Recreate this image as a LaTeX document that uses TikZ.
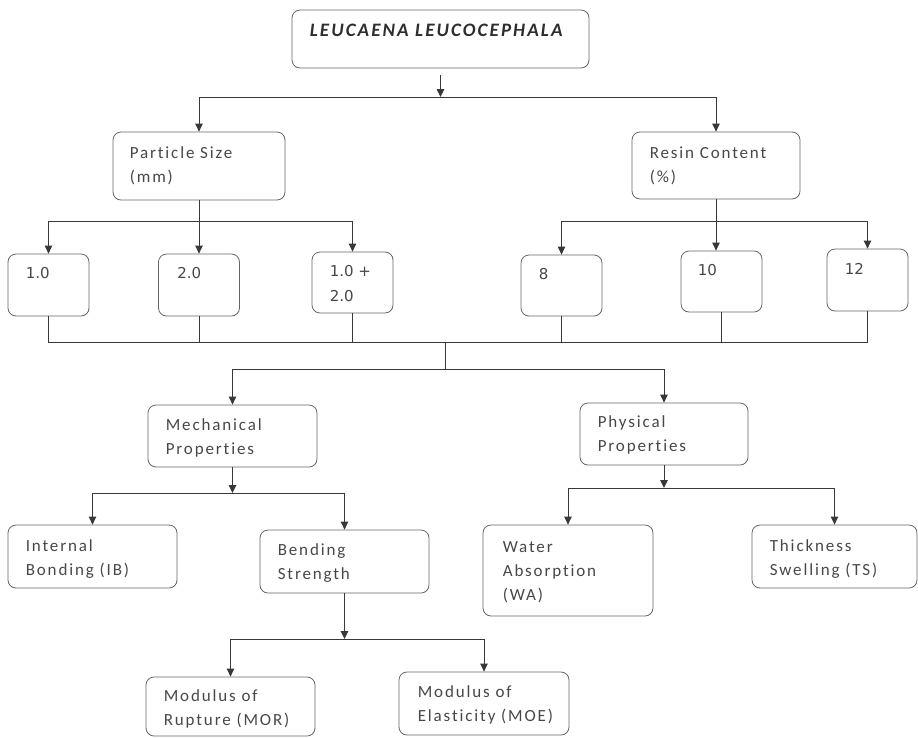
\documentclass[tikz,border=0pt]{standalone}
\usepackage{fontspec}
\setmainfont{Carlito}[LetterSpace=11, Ligatures=NoCommon]
\newfontfamily\numfont{DejaVu Sans}
\usetikzlibrary{arrows.meta,calc}

\definecolor{textcol}{gray}{0.28}
\definecolor{titlecol}{gray}{0.18}
\definecolor{linecol}{gray}{0.22}
\definecolor{boxcol}{gray}{0.4}

\begin{document}
\begin{tikzpicture}[
    x=1pt, y=-1pt,
    box/.style={draw=boxcol, line width=0.8pt, rounded corners=8pt, minimum width=169pt, minimum height=62pt, inner sep=0pt},
    numbox/.style={box, minimum width=81pt},
    txt/.style={anchor=base west, inner sep=0pt, text=textcol, font=\fontsize{17}{24}\selectfont},
    numtxt/.style={txt, font=\numfont\fontsize{15}{25}\selectfont},
    link/.style={draw=linecol, line width=0.9pt},
    arrow/.style={link, -{Triangle[length=8pt, width=7.5pt]}}
]
\useasboundingbox (0,0) rectangle (918,737);

% Boxes (top to bottom)
\node[box, minimum width=297pt, minimum height=58pt] (title) at (440.5,39) {};
\node[box, minimum width=172pt, minimum height=68pt] (psize) at (199,166) {};
\node[box, minimum width=168pt, minimum height=67pt] (rcont) at (716,165.5) {};

\node[numbox] (n1) at (48.5,285) {};
\node[numbox] (n2) at (199,285) {};
\node[numbox, minimum height=61pt] (n3) at (352.5,282.5) {};
\node[numbox, minimum height=61pt] (n4) at (561.5,285.5) {};
\node[numbox, minimum height=61pt] (n5) at (721.5,281.5) {};
\node[numbox] (n6) at (867.5,280) {};

\node[box] (mech) at (232.5,436) {};
\node[box, minimum width=168pt] (phys) at (664,434) {};

\node[box, minimum height=63pt] (ib) at (92.5,556.5) {};
\node[box, minimum height=63pt] (bend) at (344.5,561.5) {};
\node[box, minimum width=170pt, minimum height=91pt] (wa) at (568,570.5) {};
\node[box, minimum width=165pt, minimum height=63pt] (ts) at (834.5,556.5) {};

\node[box, minimum height=59pt] (mor) at (230.5,706.5) {};
\node[box, minimum width=170pt, minimum height=63pt] (moe) at (484,703.5) {};

% Texts, placed from the top left corner of each box
\node[txt, font=\bfseries\itshape\fontsize{19}{24}\selectfont, text=titlecol] (title-t) at ($(title.north west)+(18,27)$) {LEUCAENA LEUCOCEPHALA};
\node[txt] (psize-t) at ($(psize.north west)+(17,27)$) {\parbox[t]{150pt}{Particle Size\\(mm)}};
\node[txt] (rcont-t) at ($(rcont.north west)+(18,27)$) {\parbox[t]{150pt}{Resin Content\\(\%)}};

\node[numtxt] (n1-t) at ($(n1.north west)+(18,25)$) {1.0};
\node[numtxt] (n2-t) at ($(n2.north west)+(19,25)$) {2.0};
\node[numtxt] (n3-t) at ($(n3.north west)+(18,25)$) {\parbox[t]{70pt}{1.0 +\\2.0}};
\node[numtxt] (n4-t) at ($(n4.north west)+(18,25)$) {8};
\node[numtxt] (n5-t) at ($(n5.north west)+(17,25)$) {10};
\node[numtxt] (n6-t) at ($(n6.north west)+(18,26)$) {12};

\node[txt] (mech-t) at ($(mech.north west)+(18,26)$) {\parbox[t]{150pt}{Mechanical\\Properties}};
\node[txt] (phys-t) at ($(phys.north west)+(18,25)$) {\parbox[t]{150pt}{Physical\\Properties}};
\node[txt] (ib-t) at ($(ib.north west)+(18,27)$) {\parbox[t]{150pt}{Internal\\Bonding (IB)}};
\node[txt] (bend-t) at ($(bend.north west)+(18,26)$) {\parbox[t]{150pt}{Bending\\Strength}};
\node[txt] (wa-t) at ($(wa.north west)+(20,28)$) {\parbox[t]{150pt}{Water\\Absorption\\(WA)}};
\node[txt] (ts-t) at ($(ts.north west)+(18,27)$) {\parbox[t]{150pt}{Thickness\\Swelling (TS)}};
\node[txt] (mor-t) at ($(mor.north west)+(18,25)$) {\parbox[t]{150pt}{Modulus of\\Rupture (MOR)}};
\node[txt] (moe-t) at ($(moe.north west)+(19,26)$) {\parbox[t]{150pt}{Modulus of\\Elasticity (MOE)}};

% Levels of the horizontal bars
\coordinate (b1) at (0,97);
\coordinate (b2) at (0,221);
\coordinate (b3) at (0,342);
\coordinate (b4) at (0,369);
\coordinate (b5) at (0,493);
\coordinate (b6) at (0,488);
\coordinate (b7) at (0,639);
\coordinate (j3) at (445,342);

% Species to the two factors
\draw[arrow] ([yshift=-7pt]title.south) -- (title.south |- b1);
\draw[arrow] (title.south |- b1) -| (psize.north);
\draw[arrow] (title.south |- b1) -| (rcont.north);

% Factors to their levels
\draw[arrow] (psize.south) -- (n2.north);
\draw[arrow] (psize.south |- b2) -| (n1.north);
\draw[arrow] (psize.south |- b2) -| (n3.north);
\draw[arrow] (rcont.south) -- (rcont.south |- n5.north);
\draw[arrow] (rcont.south |- b2) -| (n4.north);
\draw[arrow] (rcont.south |- b2) -| (n6.north);

% Levels joined to the properties
\draw[link] (n1.south) |- (n6.south |- b3) -- (n6.south);
\foreach \b in {n2,n3,n4,n5}
    \draw[link] (\b.south) -- (\b.south |- b3);
\draw[link] (j3) -- (j3 |- b4);
\draw[arrow] (j3 |- b4) -| (mech.north);
\draw[arrow] (j3 |- b4) -| (phys.north);

% Mechanical properties
\draw[arrow] (mech.south) -- (mech.south |- b5);
\draw[arrow] (mech.south |- b5) -| (ib.north);
\draw[arrow] (mech.south |- b5) -| (bend.north);

% Physical properties
\draw[arrow] (phys.south) -- (phys.south |- b6);
\draw[arrow] (phys.south |- b6) -| (wa.north);
\draw[arrow] (phys.south |- b6) -| (ts.north);

% Bending strength
\draw[arrow] (bend.south) -- (bend.south |- b7);
\draw[arrow] (bend.south |- b7) -| (mor.north);
\draw[arrow] (bend.south |- b7) -| (moe.north);

\end{tikzpicture}
\end{document}
